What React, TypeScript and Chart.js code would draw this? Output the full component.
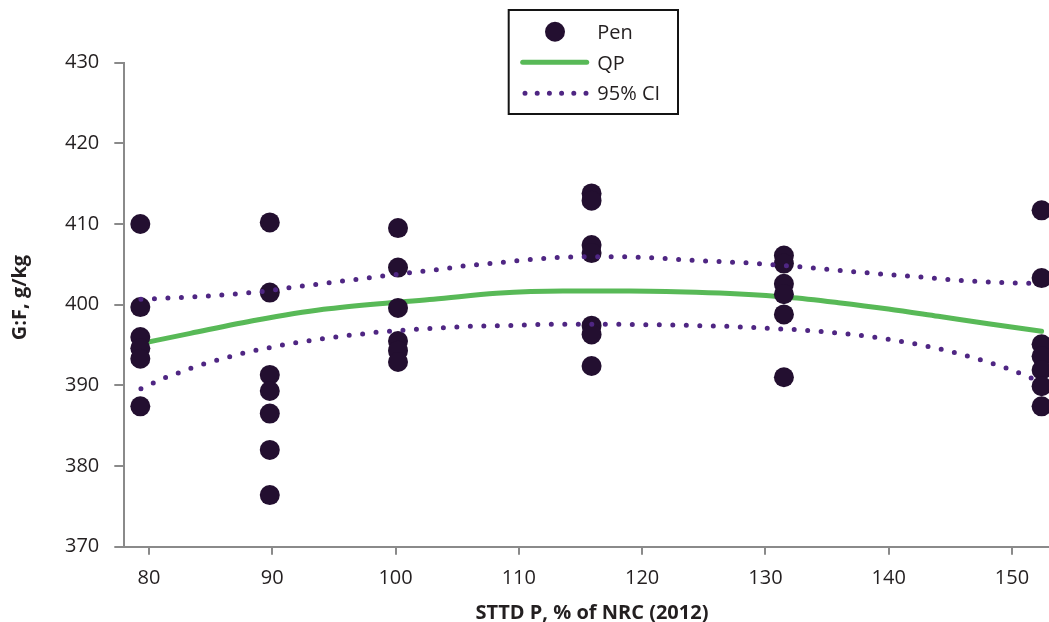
import React, { useEffect, useRef } from "react";
import { Chart, registerables } from "chart.js";

Chart.register(...registerables);

// ---- Data ----
const penX = [
  79.3, 79.3, 79.3, 79.3, 79.3, 79.3,
  89.8, 89.8, 89.8, 89.8, 89.8, 89.8, 89.8,
  100.2, 100.2, 100.2, 100.2, 100.2, 100.2,
  115.9, 115.9, 115.9, 115.9, 115.9, 115.9, 115.9,
  131.5, 131.5, 131.5, 131.5, 131.5, 131.5,
  152.4, 152.4, 152.4, 152.4, 152.4, 152.4, 152.4,
];
const penY = [
  410.0, 399.7, 396.0, 394.6, 393.3, 387.4,
  410.2, 401.5, 391.3, 389.3, 386.5, 382.0, 376.4,
  409.5, 404.6, 399.6, 395.5, 394.3, 392.9,
  413.8, 412.9, 407.4, 406.4, 397.4, 396.3, 392.4,
  406.1, 405.1, 402.6, 401.3, 398.8, 391.0,
  411.7, 403.3, 395.1, 393.6, 391.9, 389.9, 387.4,
];

const qpX = [79.35, 83.36, 88.76, 94.16, 99.57, 103.08, 108.17, 113.57, 118.97, 124.38, 127.89, 131.86, 135.92, 139.97, 144.02, 148.08, 152.4];
const qpY = [395.19, 396.45, 398.1, 399.43, 400.25, 400.67, 401.41, 401.7, 401.7, 401.54, 401.33, 400.92, 400.25, 399.47, 398.56, 397.64, 396.7];

const ciUpperX = [79.35, 83.73, 87.03, 89.24, 91.38, 94.67, 96.86, 100.14, 102.33, 103.35, 105.57, 107.76, 109.95, 112.14, 114.35, 117.62, 119.84, 122.03, 124.22, 126.43, 128.63, 133.0, 136.27, 138.46, 140.65, 142.84, 145.02, 147.21, 149.43, 151.59, 152.4];
const ciUpperY = [400.67, 400.99, 401.33, 401.66, 402.1, 402.73, 403.15, 403.77, 404.18, 404.34, 404.8, 405.13, 405.45, 405.75, 405.91, 405.95, 405.88, 405.7, 405.5, 405.33, 405.17, 404.67, 404.21, 403.93, 403.64, 403.4, 403.1, 402.9, 402.73, 402.65, 402.62];

const ciLowerX = [79.35, 80.32, 81.33, 82.35, 83.38, 84.43, 85.49, 86.54, 87.62, 88.71, 89.76, 90.84, 91.92, 93.0, 94.08, 95.19, 96.27, 97.35, 98.46, 99.54, 100.65, 101.73, 102.84, 103.95, 106.14, 108.33, 110.54, 112.73, 116.0, 118.22, 120.41, 122.62, 124.81, 127.0, 128.08, 130.3, 132.49, 134.68, 136.87, 139.06, 141.25, 143.38, 145.54, 147.65, 149.73, 151.75, 152.4];
const ciLowerY = [389.59, 390.26, 390.95, 391.53, 392.12, 392.65, 393.11, 393.55, 393.98, 394.35, 394.67, 395.0, 395.29, 395.54, 395.79, 395.99, 396.21, 396.37, 396.58, 396.7, 396.83, 396.95, 397.07, 397.15, 397.32, 397.4, 397.48, 397.57, 397.57, 397.57, 397.52, 397.48, 397.4, 397.32, 397.24, 397.07, 396.9, 396.65, 396.33, 395.91, 395.38, 394.76, 393.98, 393.06, 392.03, 390.79, 390.35];

const xTicks = [80, 90, 100, 110, 120, 130, 140, 150];
const yTicks = [370, 380, 390, 400, 410, 420, 430];

const legendLabels = ["Pen", "QP", "95% CI"];
const xTitle = "STTD P, % of NRC (2012)";
const yTitle = "G:F, g/kg";

// ---- Styles ----
const POINT_COLOR = "#230f30";
const GREEN = "#58b957";
const PURPLE = "#4f2683";
const AXIS_GREY = "#8a8a8a";
const TEXT = "#231f20";
const FONT = "'Open Sans', 'DejaVu Sans', sans-serif";

const toPts = (xs: number[], ys: number[]) => xs.map((x, i) => ({ x, y: ys[i] }));

const legendPlugin = {
  id: "insetLegend",
  afterDraw(chart: any) {
    const ctx = chart.ctx;
    ctx.save();
    ctx.lineWidth = 2;
    ctx.strokeStyle = "#141414";
    ctx.strokeRect(508.7, 10, 169.3, 104);
    ctx.fillStyle = POINT_COLOR;
    ctx.beginPath();
    ctx.arc(555, 31.7, 10, 0, Math.PI * 2);
    ctx.fill();
    ctx.strokeStyle = GREEN;
    ctx.lineWidth = 5;
    ctx.lineCap = "round";
    ctx.beginPath();
    ctx.moveTo(522.7, 62.3);
    ctx.lineTo(586.7, 62.3);
    ctx.stroke();
    ctx.strokeStyle = PURPLE;
    ctx.lineWidth = 5;
    ctx.setLineDash([0, 12.2]);
    ctx.beginPath();
    ctx.moveTo(525, 93.3);
    ctx.lineTo(586.1, 93.3);
    ctx.stroke();
    ctx.setLineDash([]);
    ctx.fillStyle = TEXT;
    ctx.font = `20px ${FONT}`;
    ctx.textAlign = "left";
    ctx.textBaseline = "middle";
    ctx.fillText(legendLabels[0], 597.3, 33.7);
    ctx.fillText(legendLabels[1], 597.3, 64);
    ctx.fillText(legendLabels[2], 597.3, 94.7);
    ctx.restore();
  },
};

const titlePlugin = {
  id: "axisTitles",
  afterDraw(chart: any) {
    const ctx = chart.ctx;
    ctx.save();
    ctx.fillStyle = TEXT;
    ctx.font = `bold 20px ${FONT}`;
    ctx.textAlign = "center";
    ctx.textBaseline = "middle";
    ctx.fillText(xTitle, 592, 613);
    ctx.translate(20.6, 297.5);
    ctx.rotate(-Math.PI / 2);
    ctx.fillText(yTitle, 0, 0);
    ctx.restore();
  },
};

export default function App() {
  const canvasRef = useRef<HTMLCanvasElement | null>(null);

  useEffect(() => {
    if (!canvasRef.current) return;
    const gridCommon = {
      display: true,
      drawOnChartArea: false,
      drawTicks: true,
      color: AXIS_GREY,
      lineWidth: 2,
    };
    const lineCommon = {
      showLine: true,
      pointRadius: 0,
      pointHoverRadius: 0,
      borderWidth: 5,
      borderCapStyle: "round",
      cubicInterpolationMode: "monotone",
      fill: false,
    };
    const chart = new Chart(canvasRef.current, {
      type: "scatter",
      data: {
        datasets: [
          {
            label: legendLabels[0],
            data: toPts(penX, penY),
            showLine: false,
            pointRadius: 10,
            pointHoverRadius: 10,
            pointBorderWidth: 0,
            pointBackgroundColor: POINT_COLOR,
            backgroundColor: POINT_COLOR,
            borderColor: POINT_COLOR,
            order: 1,
            clip: false,
          } as any,
          {
            ...lineCommon,
            label: legendLabels[1],
            data: toPts(qpX, qpY),
            borderColor: GREEN,
            order: 2,
          } as any,
          {
            ...lineCommon,
            label: legendLabels[2],
            data: toPts(ciUpperX, ciUpperY),
            borderColor: PURPLE,
            borderDash: [0, 13.5],
            order: 0,
          } as any,
          {
            ...lineCommon,
            label: legendLabels[2] + " lower",
            data: toPts(ciLowerX, ciLowerY),
            borderColor: PURPLE,
            borderDash: [0, 13.5],
            order: 0,
          } as any,
        ],
      },
      options: {
        animation: false,
        responsive: false,
        devicePixelRatio: 1,
        events: [],
        layout: { autoPadding: false, padding: { top: 62.7, left: 0, right: 0, bottom: 0 } },
        plugins: {
          legend: { display: false },
          tooltip: { enabled: false },
          title: { display: false },
        },
        scales: {
          x: {
            type: "linear",
            min: 78,
            max: 153,
            afterBuildTicks: (s: any) => {
              s.ticks = xTicks.map((v) => ({ value: v }));
            },
            afterFit: (s: any) => {
              s.height = 75.3;
              s.paddingLeft = 0;
              s.paddingRight = 0;
            },
            grid: { ...gridCommon, tickLength: 8 },
            border: { display: true, color: AXIS_GREY, width: 2 },
            ticks: {
              color: TEXT,
              font: { family: FONT, size: 20 },
              padding: 12,
              maxRotation: 0,
              autoSkip: false,
            },
            title: { display: false },
          },
          y: {
            type: "linear",
            min: 370,
            max: 430,
            afterBuildTicks: (s: any) => {
              s.ticks = yTicks.map((v) => ({ value: v }));
            },
            afterFit: (s: any) => {
              s.width = 124.3;
            },
            grid: { ...gridCommon, tickLength: 10 },
            border: { display: true, color: AXIS_GREY, width: 2 },
            ticks: {
              color: TEXT,
              font: { family: FONT, size: 20 },
              padding: 15,
              autoSkip: false,
            },
            title: { display: false },
          },
        },
      } as any,
      plugins: [legendPlugin, titlePlugin],
    });
    return () => chart.destroy();
  }, []);

  return (
    <div style={{ position: "absolute", left: 0, top: 0, width: 1049, height: 622, background: "#fff" }}>
      <canvas ref={canvasRef} width={1049} height={622} style={{ width: 1049, height: 622, display: "block" }} />
    </div>
  );
}
